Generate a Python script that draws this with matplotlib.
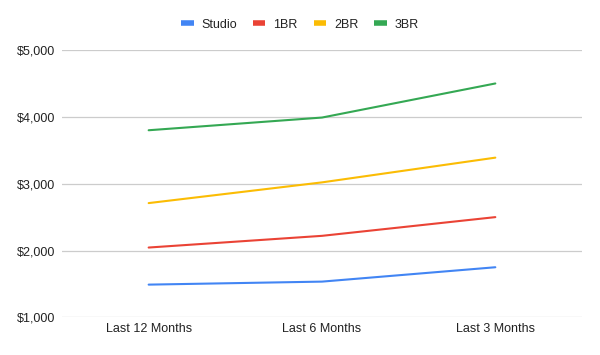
import matplotlib
matplotlib.use("Agg")
import matplotlib.pyplot as plt
from matplotlib.ticker import FuncFormatter

periods = ["Last 12 Months", "Last 6 Months", "Last 3 Months"]
studio = [1490, 1535, 1750]
br1 = [2045, 2220, 2500]
br2 = [2710, 3020, 3390]
br3 = [3800, 3990, 4500]

series = [("Studio", studio, "#4285F4"),
          ("1BR", br1, "#EA4335"),
          ("2BR", br2, "#FBBC04"),
          ("3BR", br3, "#34A853")]

plt.rcParams["font.family"] = ["Liberation Sans", "DejaVu Sans"]

fig = plt.figure(figsize=(6, 3.55), dpi=100)
ax = fig.add_axes([0.1033, 0.106, 0.8667, 0.753])

x = range(len(periods))
for name, vals, col in series:
    ax.plot(x, vals, color=col, lw=1.5, label=name, solid_capstyle="round")

ax.set_xlim(-0.5, 2.5)
ax.set_ylim(1000, 5000)
ax.set_yticks([1000, 2000, 3000, 4000, 5000])
ax.yaxis.set_major_formatter(FuncFormatter(lambda v, p: f"${v:,.0f}"))
ax.set_xticks(list(x))
ax.set_xticklabels(periods)
ax.grid(axis="y", color="#cccccc", lw=0.9)
ax.set_axisbelow(True)
for s in ax.spines.values():
    s.set_visible(False)
ax.tick_params(length=0, labelsize=9, colors="#222222")
ax.tick_params(axis="y", pad=5)
ax.tick_params(axis="x", pad=4)

leg = fig.legend(loc="center", bbox_to_anchor=(0.5, 0.93), ncol=4, frameon=False,
                 fontsize=9, handlelength=1.0, handletextpad=0.65,
                 columnspacing=1.25, labelcolor="#222222")
for h in leg.legend_handles:
    h.set_linewidth(4)
    h.set_solid_capstyle("butt")

fig.savefig("out.png", dpi=100)
